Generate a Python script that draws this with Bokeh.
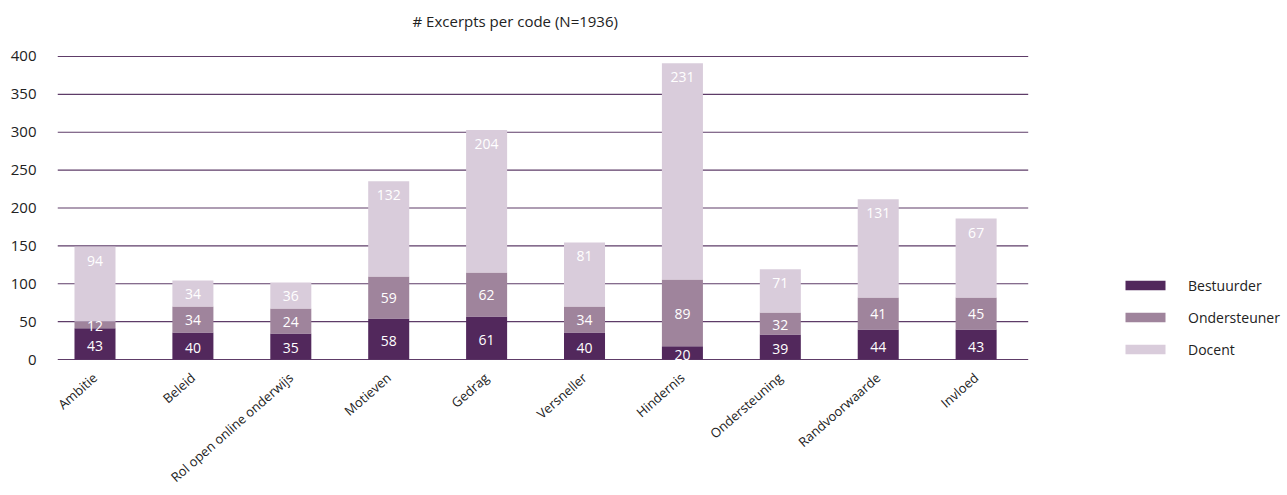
import numpy as np
from bokeh.plotting import figure
from bokeh.models import ColumnDataSource, Range1d, FixedTicker, Legend, Label
from bokeh.core.properties import value
from bokeh.embed import file_html
from bokeh.resources import INLINE

# ---- data ----
categories = ["Ambitie", "Beleid", "Rol open online onderwijs", "Motieven", "Gedrag",
              "Versneller", "Hindernis", "Ondersteuning", "Randvoorwaarde", "Invloed"]
series = ["Bestuurder", "Ondersteuner", "Docent"]

# segment heights as drawn in the chart
bestuurder = [41.3, 35.7, 34.4, 54.2, 56.8, 35.7, 17.6, 33.0, 39.6, 39.6]
ondersteuner = [9.0, 34.3, 33.0, 55.5, 58.2, 34.3, 88.1, 29.0, 42.4, 42.4]
docent = [98.5, 34.4, 34.4, 125.5, 188.0, 84.6, 285.3, 57.0, 129.5, 104.0]

# numbers printed on the segments
bestuurder_labels = ["43", "40", "35", "58", "61", "40", "20", "39", "44", "43"]
ondersteuner_labels = ["12", "34", "24", "59", "62", "34", "89", "32", "41", "45"]
docent_labels = ["94", "34", "36", "132", "204", "81", "231", "71", "131", "67"]

y_ticks = [0, 50, 100, 150, 200, 250, 300, 350, 400]
title_text = "# Excerpts per code (N=1936)"

colors = ["#52285c", "#9f849c", "#d9ccdb"]
FONT = "Open Sans"
TXT = "#222222"

idx = list(range(len(categories)))
b = np.array(bestuurder)
o = np.array(ondersteuner)
d = np.array(docent)

source = ColumnDataSource(dict(
    x=idx,
    Bestuurder=bestuurder, Ondersteuner=ondersteuner, Docent=docent,
    yb=(b / 2).tolist(), yo=(b + o / 2).tolist(), yd=(b + o + d).tolist(),
    lb=bestuurder_labels, lo=ondersteuner_labels, ld=docent_labels,
))

X_START, GRID_END, X_END = -0.383, 9.532, 12.16
p = figure(width=1285, height=495, output_backend="svg", toolbar_location=None,
           title=None,
           x_range=Range1d(X_START, X_END), y_range=Range1d(-1.32, 473.9),
           min_border_left=57, min_border_right=0, min_border_top=0, min_border_bottom=135)
p.outline_line_color = None
p.background_fill_color = "white"
p.border_fill_color = "white"

# horizontal grid lines over the plotting area only
p.segment(x0=X_START, x1=GRID_END, y0=y_ticks, y1=y_ticks,
          line_color="#5e3c68", line_width=1.2, level="underlay")

renderers = p.vbar_stack(series, x="x", width=0.419, color=colors, line_color=None,
                         source=source)

lab_kw = dict(text_font=value(FONT), text_font_size=value("14px"), text_color="white",
              text_align="center", text_baseline="middle", source=source)
p.text(x="x", y="yb", text="lb", y_offset=2, **lab_kw)
p.text(x="x", y="yo", text="lo", y_offset=1, **lab_kw)
p.text(x="x", y="yd", text="ld", y_offset=14, **lab_kw)

p.add_layout(Label(x=355, y=340, x_units="screen", y_units="screen", text=title_text,
                   text_font=FONT, text_font_size="15px", text_color=TXT,
                   text_align="left", text_baseline="middle"))

# axes
p.xaxis.ticker = FixedTicker(ticks=idx)
p.xaxis.major_label_overrides = {i: c for i, c in zip(idx, categories)}
p.xaxis.major_label_orientation = 0.72
p.xaxis.axis_line_color = None
p.xaxis.major_tick_line_color = None
p.xaxis.minor_tick_line_color = None
p.xaxis.major_tick_out = 0
p.xaxis.major_label_standoff = 15
p.xaxis.major_label_text_font = FONT
p.xaxis.major_label_text_font_size = "13px"
p.xaxis.major_label_text_color = TXT

p.yaxis.ticker = FixedTicker(ticks=y_ticks)
p.yaxis.axis_line_color = None
p.yaxis.major_tick_line_color = None
p.yaxis.minor_tick_line_color = None
p.yaxis.major_tick_out = 0
p.yaxis.major_label_standoff = 21
p.yaxis.major_label_text_font = FONT
p.yaxis.major_label_text_font_size = "15px"
p.yaxis.major_label_text_color = TXT

p.xgrid.grid_line_color = None
p.ygrid.grid_line_color = None

legend = Legend(items=[(s, [r]) for s, r in zip(series, renderers)],
                location=(1063, 1), orientation="vertical")
legend.glyph_width = 50
legend.glyph_height = 12
legend.label_height = 20
legend.spacing = 12
legend.label_standoff = 18
legend.padding = 0
legend.margin = 0
legend.border_line_color = None
legend.background_fill_alpha = 0
legend.label_text_font = FONT
legend.label_text_font_size = "14px"
legend.label_text_color = TXT
p.add_layout(legend, "center")

open("out.html", "w").write(file_html(p, INLINE))
